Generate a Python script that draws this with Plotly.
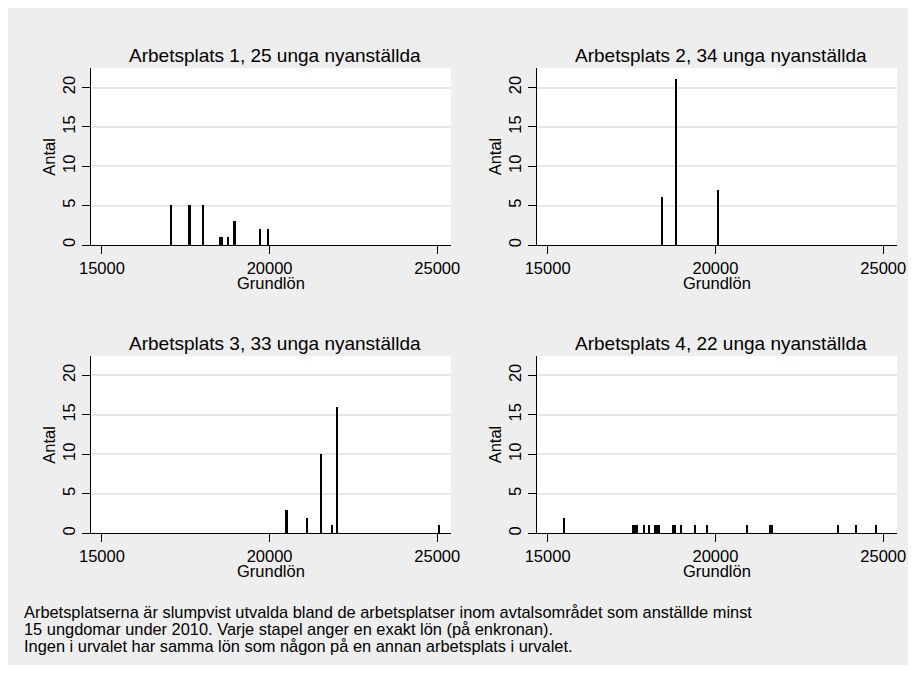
import plotly.graph_objects as go

# ---- data ----
titles = ["Arbetsplats 1, 25 unga nyanställda",
          "Arbetsplats 2, 34 unga nyanställda",
          "Arbetsplats 3, 33 unga nyanställda",
          "Arbetsplats 4, 22 unga nyanställda"]

lon1 = [17060, 17620, 18020, 18540, 18580, 18760, 18960, 19730, 19970]
antal1 = [5, 5, 5, 1, 1, 1, 3, 2, 2]

lon2 = [18410, 18820, 20070]
antal2 = [6, 21, 7]

lon3 = [20510, 21120, 21540, 21860, 22030, 25070]
antal3 = [3, 2, 10, 1, 16, 1]

lon4 = [15490, 17550, 17600, 17650, 17860, 18030, 18210, 18240, 18270, 18310,
        18740, 18790, 18970, 19380, 19750, 20950, 21640, 21670, 23650, 24180, 24780]
antal4 = [2, 1, 1, 1, 1, 1, 1, 1, 1, 1,
          1, 1, 1, 1, 1, 1, 1, 1, 1, 1, 1]

x_ticks = [15000, 20000, 25000]
x_ticktext = ["15000", "20000", "25000"]
y_ticks = [0, 5, 10, 15, 20]
x_title = "Grundlön"
y_title = "Antal"
note_lines = [
    "Arbetsplatserna är slumpvist utvalda bland de arbetsplatser inom avtalsområdet som anställde minst",
    "15 ungdomar under 2010. Varje stapel anger en exakt lön (på enkronan).",
    "Ingen i urvalet har samma lön som någon på en annan arbetsplats i urvalet.",
]

# ---- layout geometry (pixels) ----
W, H = 900, 657
FONT = "Liberation Sans, Arial, sans-serif"

def fx(p):
    return p / W

def fy(p):
    return 1 - p / H

cols = [(83, 443), (528.7, 889)]
rows = [(60.3, 237), (348, 525.3)]

series = [(lon1, antal1), (lon2, antal2), (lon3, antal3), (lon4, antal4)]

fig = go.Figure()
annotations = []
layout_axes = {}

for i, (xs, ys) in enumerate(series):
    r, c = divmod(i, 2)
    n = "" if i == 0 else str(i + 1)
    fig.add_trace(go.Bar(
        x=xs, y=ys, width=50,
        marker=dict(color="black", line=dict(width=0)),
        xaxis="x" + n, yaxis="y" + n, showlegend=False,
        hoverinfo="x+y",
    ))
    x0, x1 = cols[c]
    y0, y1 = rows[r]
    layout_axes["xaxis" + n] = dict(
        domain=[fx(x0), fx(x1)], range=[14675, 25410], anchor="y" + n,
        tickvals=x_ticks, ticktext=x_ticktext, ticks="outside", ticklen=8, tickwidth=1.3,
        tickcolor="black", automargin=False,
        showline=True, linecolor="black", linewidth=1.3, showgrid=False, zeroline=False,
        tickfont=dict(family=FONT, size=16.5, color="black"),
    )
    layout_axes["yaxis" + n] = dict(
        domain=[fy(y1), fy(y0)], range=[0, 22.45], anchor="x" + n,
        tickvals=y_ticks, ticks="outside", ticklen=8, tickwidth=1.3, tickcolor="black",
        showline=True, linecolor="black", linewidth=1.3, automargin=False,
        showgrid=True, gridcolor="#e6e6e6", gridwidth=1.6, zeroline=False,
        tickangle=-90,
        tickfont=dict(family=FONT, size=16.5, color="black"),
    )
    xc = (x0 + x1) / 2
    annotations.append(dict(text=titles[i], x=fx(xc + 4), y=fy(y0 - 12.5), xref="paper", yref="paper",
                            xanchor="center", yanchor="middle", showarrow=False,
                            font=dict(family=FONT, size=19, color="black")))
    annotations.append(dict(text=x_title, x=fx(xc), y=fy(y1 + 38), xref="paper", yref="paper",
                            xanchor="center", yanchor="middle", showarrow=False,
                            font=dict(family=FONT, size=16.5, color="black")))
    annotations.append(dict(text=y_title, x=fx(x0 - 42), y=fy((y0 + y1) / 2), xref="paper", yref="paper",
                            xanchor="center", yanchor="middle", showarrow=False, textangle=-90,
                            font=dict(family=FONT, size=16.5, color="black")))

for k, line in enumerate(note_lines):
    annotations.append(dict(text=line, x=fx(14), y=fy(604 + 17 * k), xref="paper", yref="paper",
                            xanchor="left", yanchor="middle", showarrow=False, align="left",
                            font=dict(family=FONT, size=16.4, color="black")))

fig.update_layout(
    width=W, height=H, autosize=False,
    margin=dict(l=0, r=0, t=0, b=0, pad=0, autoexpand=False),
    paper_bgcolor="#eeeeee", plot_bgcolor="white",
    bargap=0, annotations=annotations,
    **layout_axes,
)

fig.write_html("out.html")
